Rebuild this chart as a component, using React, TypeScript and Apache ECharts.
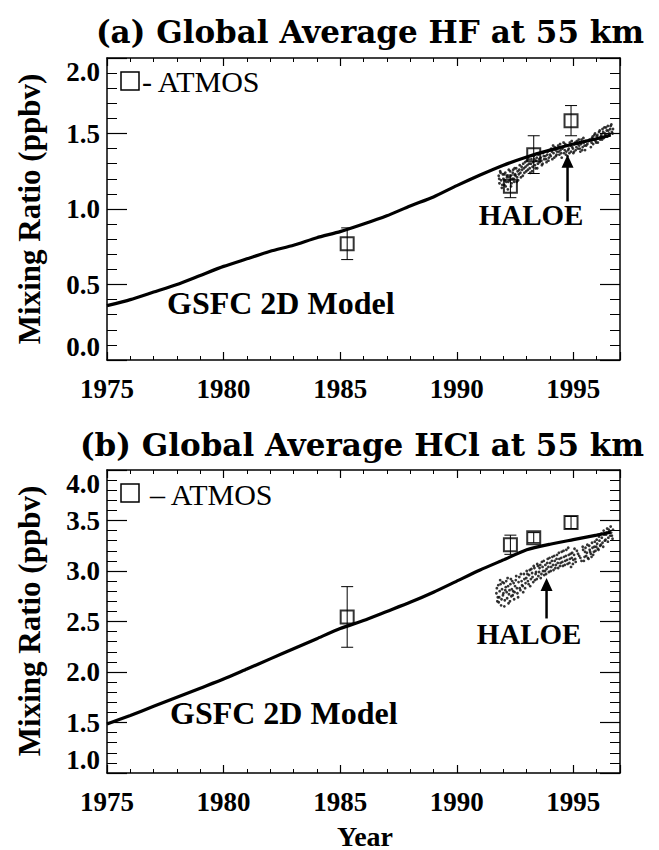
import React, { useEffect, useRef } from 'react';
import * as echarts from 'echarts';

// ---- data ----
const modelYears = [1975, 1976, 1977, 1978, 1979, 1980, 1981, 1982, 1983, 1984, 1985, 1986, 1987, 1988, 1989, 1990, 1991, 1992, 1993, 1994, 1995, 1996, 1996.6];
const hfModel = [0.36, 0.40, 0.45, 0.50, 0.56, 0.62, 0.67, 0.72, 0.76, 0.81, 0.85, 0.90, 0.955, 1.02, 1.08, 1.155, 1.225, 1.29, 1.345, 1.39, 1.43, 1.465, 1.49];
const hclModel = [1.485, 1.57, 1.66, 1.75, 1.84, 1.93, 2.03, 2.13, 2.23, 2.33, 2.43, 2.51, 2.60, 2.69, 2.79, 2.90, 3.01, 3.11, 3.21, 3.265, 3.31, 3.355, 3.385];

const atmosYears = [1985.3, 1992.3, 1993.3, 1994.9];
const hfAtmos = [0.77, 1.15, 1.36, 1.585];
const hfAtmosErr = [0.105, 0.075, 0.125, 0.1];
const hclAtmos = [2.545, 3.26, 3.33, 3.48];
const hclAtmosErr = [0.3, 0.095, 0.05, 0.06];

const hfHaloe: [number, number][] = [
  [1991.80, 1.22], [1991.83, 1.17], [1991.86, 1.25], [1991.90, 1.19], [1991.93, 1.14], [1991.97, 1.23],
  [1992.00, 1.20], [1992.04, 1.16], [1992.08, 1.24], [1992.12, 1.18], [1992.15, 1.21], [1992.19, 1.13],
  [1992.23, 1.26], [1992.27, 1.19], [1992.31, 1.22], [1992.35, 1.17], [1992.40, 1.24], [1992.44, 1.20],
  [1992.48, 1.27], [1992.52, 1.22], [1992.57, 1.18], [1992.61, 1.25], [1992.66, 1.23], [1992.70, 1.29],
  [1992.75, 1.21], [1992.80, 1.26], [1992.85, 1.30], [1992.90, 1.24], [1992.95, 1.28], [1993.00, 1.32],
  [1993.05, 1.26], [1993.10, 1.30], [1993.15, 1.24], [1993.20, 1.33], [1993.25, 1.28], [1993.30, 1.35],
  [1993.35, 1.29], [1993.40, 1.32], [1993.45, 1.27], [1993.50, 1.36], [1993.55, 1.31], [1993.60, 1.34],
  [1993.65, 1.29], [1993.70, 1.37], [1993.75, 1.33], [1993.80, 1.35], [1993.85, 1.31], [1993.90, 1.38],
  [1993.95, 1.34], [1994.00, 1.36], [1994.05, 1.40], [1994.10, 1.33], [1994.15, 1.37], [1994.20, 1.41],
  [1994.25, 1.35], [1994.30, 1.38], [1994.35, 1.42], [1994.40, 1.36], [1994.45, 1.39], [1994.50, 1.34],
  [1994.55, 1.41], [1994.60, 1.37], [1994.65, 1.43], [1994.70, 1.38], [1994.75, 1.35], [1994.80, 1.40],
  [1994.85, 1.44], [1994.90, 1.38], [1994.95, 1.41], [1995.00, 1.37], [1995.05, 1.43], [1995.10, 1.39],
  [1995.15, 1.45], [1995.20, 1.40], [1995.25, 1.42], [1995.30, 1.38], [1995.35, 1.46], [1995.40, 1.41],
  [1995.45, 1.44], [1995.50, 1.39], [1995.55, 1.42], [1995.65, 1.45], [1995.75, 1.41], [1995.80, 1.47],
  [1995.85, 1.43], [1995.90, 1.49], [1995.95, 1.45], [1996.00, 1.48], [1996.05, 1.44], [1996.10, 1.51],
  [1996.15, 1.46], [1996.20, 1.49], [1996.25, 1.53], [1996.30, 1.47], [1996.35, 1.50], [1996.40, 1.54],
  [1996.45, 1.48], [1996.50, 1.52], [1996.55, 1.49], [1996.60, 1.55], [1996.65, 1.51], [1996.70, 1.53],
  [1991.82, 1.20], [1991.88, 1.24], [1991.95, 1.16], [1992.02, 1.23], [1992.06, 1.19], [1992.10, 1.15],
  [1992.17, 1.22], [1992.21, 1.18], [1992.25, 1.21], [1992.29, 1.25], [1992.33, 1.15], [1992.38, 1.20],
  [1992.42, 1.26], [1992.46, 1.18], [1992.50, 1.23], [1992.55, 1.27], [1992.59, 1.21], [1992.63, 1.19],
  [1992.68, 1.26], [1992.73, 1.24], [1992.78, 1.28], [1992.83, 1.22], [1992.88, 1.27], [1992.93, 1.31],
  [1992.98, 1.25], [1993.03, 1.29], [1993.08, 1.33], [1993.13, 1.27], [1993.18, 1.30], [1993.23, 1.25],
  [1993.28, 1.31], [1993.33, 1.33], [1993.38, 1.27], [1993.43, 1.34], [1993.48, 1.30], [1993.53, 1.33],
  [1993.58, 1.37], [1993.63, 1.32], [1993.68, 1.30], [1993.73, 1.35], [1993.78, 1.38], [1993.83, 1.33],
  [1993.88, 1.36], [1993.93, 1.32], [1993.98, 1.39], [1994.03, 1.35], [1994.08, 1.38], [1994.13, 1.42],
  [1994.18, 1.34], [1994.23, 1.39], [1994.28, 1.36], [1994.33, 1.40], [1994.38, 1.38], [1994.43, 1.43],
  [1994.48, 1.37], [1994.53, 1.40], [1994.58, 1.44], [1994.63, 1.39], [1994.68, 1.36], [1994.73, 1.42],
  [1994.78, 1.39], [1994.83, 1.37], [1994.88, 1.42], [1994.93, 1.45], [1994.98, 1.40], [1995.03, 1.38],
  [1995.08, 1.44], [1995.13, 1.41], [1995.18, 1.43], [1995.23, 1.46], [1995.28, 1.40], [1995.33, 1.43],
  [1995.38, 1.39], [1995.43, 1.47], [1995.48, 1.42], [1995.53, 1.45], [1995.60, 1.43], [1995.70, 1.46],
  [1995.78, 1.44], [1995.83, 1.48], [1995.88, 1.46], [1995.93, 1.50], [1995.98, 1.44], [1996.03, 1.49],
  [1996.08, 1.47], [1996.13, 1.52], [1996.18, 1.48], [1996.23, 1.46], [1996.28, 1.51], [1996.33, 1.54],
  [1996.38, 1.49], [1996.43, 1.52], [1996.48, 1.55], [1996.53, 1.50], [1996.58, 1.53], [1996.63, 1.56],
  [1996.68, 1.50],
];

const hclHaloe: [number, number][] = [
  [1991.70, 2.78], [1991.74, 2.70], [1991.78, 2.86], [1991.82, 2.74], [1991.86, 2.91], [1991.90, 2.66],
  [1991.94, 2.82], [1991.98, 2.76], [1992.02, 2.88], [1992.06, 2.71], [1992.10, 2.84], [1992.14, 2.79],
  [1992.18, 2.93], [1992.22, 2.68], [1992.26, 2.81], [1992.30, 2.87], [1992.34, 2.75], [1992.38, 2.90],
  [1992.42, 2.80], [1992.46, 2.72], [1992.50, 2.85], [1992.55, 2.95], [1992.60, 2.78], [1992.65, 2.89],
  [1992.70, 2.83], [1992.75, 2.97], [1992.80, 2.86], [1992.85, 2.79], [1992.90, 2.92], [1992.95, 2.88],
  [1993.00, 3.00], [1993.05, 2.90], [1993.10, 2.96], [1993.15, 2.85], [1993.20, 3.02], [1993.25, 2.94],
  [1993.30, 3.05], [1993.35, 2.91], [1993.40, 2.99], [1993.45, 3.07], [1993.50, 2.95], [1993.55, 3.03],
  [1993.60, 2.93], [1993.65, 3.09], [1993.70, 3.00], [1993.75, 2.96], [1993.80, 3.06], [1993.85, 3.02],
  [1993.90, 3.12], [1993.95, 2.99], [1994.00, 3.08], [1994.05, 3.04], [1994.10, 3.14], [1994.15, 3.01],
  [1994.20, 3.10], [1994.25, 3.06], [1994.30, 3.16], [1994.35, 3.03], [1994.40, 3.12], [1994.45, 3.08],
  [1994.50, 3.19], [1994.55, 3.05], [1994.60, 3.14], [1994.65, 3.10], [1994.70, 3.21], [1994.75, 3.07],
  [1994.80, 3.16], [1994.85, 3.12], [1994.90, 3.04], [1994.95, 3.18], [1995.00, 3.11], [1995.05, 3.22],
  [1995.10, 3.09], [1995.20, 3.17], [1995.30, 3.13], [1995.40, 3.24], [1995.45, 3.10], [1995.50, 3.19],
  [1995.55, 3.15], [1995.60, 3.26], [1995.65, 3.12], [1995.70, 3.21], [1995.75, 3.17], [1995.80, 3.28],
  [1995.85, 3.16], [1995.90, 3.24], [1995.95, 3.20], [1996.00, 3.31], [1996.05, 3.22], [1996.10, 3.34],
  [1996.15, 3.25], [1996.20, 3.37], [1996.25, 3.28], [1996.30, 3.40], [1996.35, 3.30], [1996.40, 3.36],
  [1996.45, 3.42], [1996.50, 3.33], [1996.55, 3.39], [1996.60, 3.44], [1996.65, 3.35], [1996.70, 3.41],
  [1991.72, 2.83], [1991.76, 2.74], [1991.80, 2.69], [1991.84, 2.80], [1991.88, 2.87], [1991.92, 2.72],
  [1991.96, 2.89], [1992.00, 2.78], [1992.04, 2.65], [1992.08, 2.81], [1992.12, 2.90], [1992.16, 2.73],
  [1992.20, 2.85], [1992.24, 2.77], [1992.28, 2.70], [1992.32, 2.92], [1992.36, 2.82], [1992.40, 2.76],
  [1992.44, 2.88], [1992.48, 2.79], [1992.53, 2.91], [1992.58, 2.83], [1992.63, 2.74], [1992.68, 2.94],
  [1992.73, 2.81], [1992.78, 2.90], [1992.83, 2.85], [1992.88, 2.97], [1992.93, 2.83], [1992.98, 2.93],
  [1993.03, 2.97], [1993.08, 2.87], [1993.13, 3.01], [1993.18, 2.92], [1993.23, 2.98], [1993.28, 2.89],
  [1993.33, 3.03], [1993.38, 2.97], [1993.43, 2.92], [1993.48, 3.05], [1993.53, 2.99], [1993.58, 3.06],
  [1993.63, 2.97], [1993.68, 3.04], [1993.73, 3.10], [1993.78, 3.00], [1993.83, 2.97], [1993.88, 3.08],
  [1993.93, 3.04], [1993.98, 3.13], [1994.03, 3.00], [1994.08, 3.10], [1994.13, 3.06], [1994.18, 3.15],
  [1994.23, 3.03], [1994.28, 3.12], [1994.33, 3.08], [1994.38, 3.18], [1994.43, 3.05], [1994.48, 3.13],
  [1994.53, 3.09], [1994.58, 3.20], [1994.63, 3.06], [1994.68, 3.15], [1994.73, 3.11], [1994.78, 3.23],
  [1994.83, 3.08], [1994.88, 3.17], [1994.93, 3.13], [1994.98, 3.07], [1995.03, 3.16], [1995.08, 3.12],
  [1995.15, 3.20], [1995.25, 3.15], [1995.35, 3.10], [1995.42, 3.21], [1995.48, 3.14], [1995.52, 3.23],
  [1995.58, 3.18], [1995.62, 3.13], [1995.68, 3.25], [1995.72, 3.19], [1995.78, 3.14], [1995.82, 3.23],
  [1995.88, 3.19], [1995.92, 3.29], [1995.98, 3.24], [1996.02, 3.27], [1996.08, 3.21], [1996.12, 3.30],
  [1996.18, 3.26], [1996.22, 3.33], [1996.28, 3.24], [1996.32, 3.36], [1996.38, 3.31], [1996.42, 3.38],
  [1996.48, 3.29], [1996.52, 3.41], [1996.58, 3.35], [1996.62, 3.38], [1996.68, 3.32],
];

// arrows: [x, from, to]
const hfArrow = [1994.75, 1.05, 1.36];
const hclArrow = [1993.85, 2.53, 2.93];

const xRange = [1975, 1997];
const hfRange = [0, 2];
const hclRange = [1, 4];

const SERIF = '"Liberation Serif", "Times New Roman", serif';
const TITLE_FONT = '"DejaVu Serif", serif';

export default function App() {
  const ref = useRef<HTMLDivElement>(null);
  useEffect(() => {
    if (!ref.current) return;
    const chart = echarts.init(ref.current, undefined, { renderer: 'svg' });

    const G0 = { left: 107, top: 58, width: 513, height: 302 };
    const G1 = { left: 107, top: 470, width: 513, height: 303 };

    const labelStyle = { fontFamily: SERIF, fontWeight: 'bold' as const, fontSize: 27, color: '#000' };
    const lineStyle = { color: '#000', width: 1.5 };

    const mainX = (grid: number, pos: 'bottom' | 'top') => ({
      type: 'value', gridIndex: grid, position: pos, min: xRange[0], max: xRange[1], interval: 5,
      axisLine: { show: true, onZero: false, lineStyle },
      axisTick: { show: true, inside: true, length: 8, lineStyle: { color: '#000', width: 1.2 } },
      axisLabel: pos === 'bottom' ? {
        show: true, margin: 15, ...labelStyle,
        formatter: (v: number) => (v % 5 === 0 ? String(v) : ''),
      } : { show: false },
      splitLine: { show: false },
    });
    const minorX = (grid: number, pos: 'bottom' | 'top') => ({
      type: 'value', gridIndex: grid, position: pos, min: xRange[0], max: xRange[1], interval: 1,
      axisLine: { show: false, onZero: false },
      axisTick: { show: true, inside: true, length: 4, lineStyle: { color: '#000', width: 1 } },
      axisLabel: { show: false },
      splitLine: { show: false },
    });
    const mainY = (grid: number, pos: 'left' | 'right', range: number[]) => ({
      type: 'value', gridIndex: grid, position: pos, min: range[0], max: range[1], interval: 0.5,
      axisLine: { show: true, onZero: false, lineStyle },
      axisTick: { show: true, inside: true, length: 20, lineStyle: { color: '#000', width: 1.2 } },
      minorTick: { show: true, splitNumber: 5, length: 10, lineStyle: { color: '#000', width: 1 } },
      axisLabel: pos === 'left' ? {
        show: true, margin: 7, ...labelStyle,
        formatter: (v: number) => v.toFixed(1),
        verticalAlignMinLabel: 'bottom', verticalAlignMaxLabel: 'top',
      } : { show: false },
      splitLine: { show: false },
      minorSplitLine: { show: false },
    });
    const hiddenY = (grid: number, range: number[]) => ({
      type: 'value', gridIndex: grid, min: range[0], max: range[1], show: false,
    });

    const errRender = (params: any, api: any) => {
      const x = api.value(0), lo = api.value(1), hi = api.value(2);
      const p1 = api.coord([x, lo]);
      const p2 = api.coord([x, hi]);
      const w = 6;
      const st = { stroke: '#000', lineWidth: 1 };
      return {
        type: 'group',
        children: [
          { type: 'line', shape: { x1: p1[0], y1: p1[1], x2: p2[0], y2: p2[1] }, style: st },
          { type: 'line', shape: { x1: p1[0] - w, y1: p1[1], x2: p1[0] + w, y2: p1[1] }, style: st },
          { type: 'line', shape: { x1: p2[0] - w, y1: p2[1], x2: p2[0] + w, y2: p2[1] }, style: st },
        ],
      };
    };
    const arrowRender = (params: any, api: any) => {
      const x = api.value(0), from = api.value(1), to = api.value(2);
      const a = api.coord([x, from]);
      const b = api.coord([x, to]);
      const hl = 13, hw = 6;
      return {
        type: 'group',
        children: [
          { type: 'line', shape: { x1: a[0], y1: a[1], x2: b[0], y2: b[1] + hl - 1 }, style: { stroke: '#000', lineWidth: 2.5 } },
          { type: 'polygon', shape: { points: [[b[0], b[1]], [b[0] - hw, b[1] + hl], [b[0] + hw, b[1] + hl]] }, style: { fill: '#000' } },
        ],
      };
    };

    const panelSeries = (xi: number, yi: number, model: number[], atmos: number[], err: number[], haloe: [number, number][], arrow: number[]) => [
      {
        type: 'scatter', xAxisIndex: xi, yAxisIndex: yi, data: haloe, symbol: 'circle', symbolSize: 2.8,
        itemStyle: { color: '#111', opacity: 0.85 }, silent: true, z: 2,
      },
      {
        type: 'line', xAxisIndex: xi, yAxisIndex: yi, data: modelYears.map((y, i) => [y, model[i]]),
        showSymbol: false, symbol: 'none', smooth: 0.2, lineStyle: { color: '#000', width: 3.2 }, z: 3,
      },
      {
        type: 'custom', xAxisIndex: xi, yAxisIndex: yi, renderItem: errRender,
        data: atmosYears.map((y, i) => [y, atmos[i] - err[i], atmos[i] + err[i]]),
        encode: { x: 0, y: [1, 2] }, z: 4,
      },
      {
        type: 'scatter', xAxisIndex: xi, yAxisIndex: yi, data: atmosYears.map((y, i) => [y, atmos[i]]),
        symbol: 'rect', symbolSize: 13,
        itemStyle: { color: 'rgba(0,0,0,0)', borderColor: '#000', borderWidth: 2 }, z: 5,
      },
      {
        type: 'custom', xAxisIndex: xi, yAxisIndex: yi, renderItem: arrowRender,
        data: [arrow], encode: { x: 0, y: [1, 2] }, z: 6,
      },
    ];

    const txt = (text: string, x: number, y: number, size: number, opts: any = {}) => ({
      type: 'text', x, y, rotation: opts.rotation || 0,
      style: {
        text, fill: '#000', fontFamily: opts.family || SERIF, fontWeight: opts.weight || 'bold', fontSize: size,
        textAlign: opts.align || 'left', textVerticalAlign: 'middle',
      },
    });

    chart.setOption({
      animation: false,
      backgroundColor: '#fff',
      grid: [
        { ...G0, containLabel: false },
        { ...G0, containLabel: false },
        { ...G1, containLabel: false },
        { ...G1, containLabel: false },
      ],
      xAxis: [
        mainX(0, 'bottom'), mainX(0, 'top'), minorX(1, 'bottom'), minorX(1, 'top'),
        mainX(2, 'bottom'), mainX(2, 'top'), minorX(3, 'bottom'), minorX(3, 'top'),
      ],
      yAxis: [
        mainY(0, 'left', hfRange), mainY(0, 'right', hfRange), hiddenY(1, hfRange),
        mainY(2, 'left', hclRange), mainY(2, 'right', hclRange), hiddenY(3, hclRange),
      ],
      series: [
        ...panelSeries(0, 0, hfModel, hfAtmos, hfAtmosErr, hfHaloe, hfArrow),
        ...panelSeries(4, 3, hclModel, hclAtmos, hclAtmosErr, hclHaloe, hclArrow),
      ],
      graphic: [
        txt('(a) Global Average HF at 55 km', 370, 32, 31, { family: TITLE_FONT, align: 'center' }),
        txt('(b) Global Average HCl at 55 km', 362, 445, 31, { family: TITLE_FONT, align: 'center' }),
        txt('Mixing Ratio (ppbv)', 29, 209, 31, { align: 'center', rotation: Math.PI / 2 }),
        txt('Mixing Ratio (ppbv)', 29, 621, 31, { align: 'center', rotation: Math.PI / 2 }),
        txt('Year', 365, 836, 28, { align: 'center' }),
        { type: 'rect', shape: { x: 121, y: 72, width: 18, height: 18 }, style: { fill: 'none', stroke: '#000', lineWidth: 1.5 } },
        txt('- ATMOS', 142, 81, 30, { weight: 'normal' }),
        { type: 'rect', shape: { x: 121, y: 484, width: 18, height: 18 }, style: { fill: 'none', stroke: '#000', lineWidth: 1.5 } },
        txt('– ATMOS', 150, 494, 30, { weight: 'normal' }),
        txt('HALOE', 531, 215, 29, { align: 'center' }),
        txt('HALOE', 529, 634, 29, { align: 'center' }),
        txt('GSFC 2D Model', 167, 303, 32),
        txt('GSFC 2D Model', 170, 713, 32),
      ],
    });

    return () => chart.dispose();
  }, []);

  return <div ref={ref} style={{ position: 'absolute', left: 0, top: 0, width: 659, height: 850 }} />;
}
